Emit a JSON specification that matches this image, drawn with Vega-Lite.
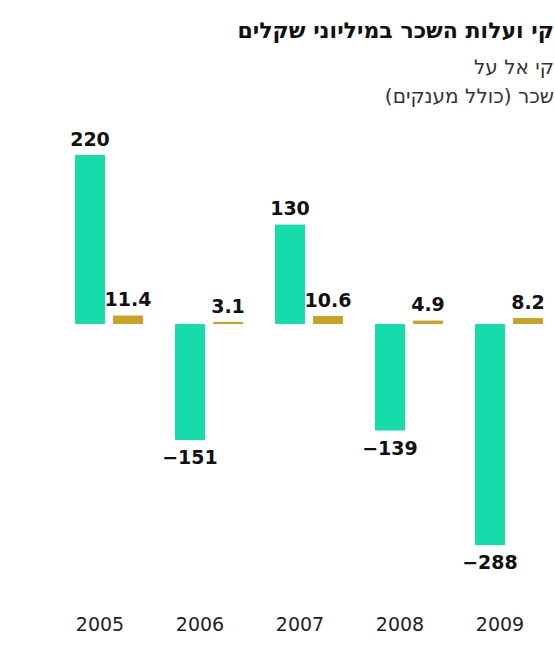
{
  "$schema": "https://vega.github.io/schema/vega-lite/v6.json",
  "autosize": "none",
  "width": 554,
  "height": 485,
  "padding": {"top": 120, "left": 0, "right": 0, "bottom": 43},
  "background": "#ffffff",
  "title": {
    "text": "קי ועלות השכר במיליוני שקלים",
    "subtitle": ["קי אל על", "שכר (כולל מענקים)‏"],
    "anchor": "end",
    "frame": "group",
    "font": "DejaVu Sans",
    "fontSize": 22,
    "fontWeight": "bold",
    "color": "#111111",
    "subtitleFont": "DejaVu Sans",
    "subtitleFontSize": 20,
    "subtitleColor": "#333333",
    "subtitleLineHeight": 29,
    "subtitlePadding": 15,
    "offset": 12
  },
  "config": {
    "view": {"stroke": null},
    "font": "DejaVu Sans"
  },
  "data": {
    "values": [
      {"year": "2005", "series": "profit", "value": 220, "label": "220"},
      {"year": "2006", "series": "profit", "value": -151, "label": "−151"},
      {"year": "2007", "series": "profit", "value": 130, "label": "130"},
      {"year": "2008", "series": "profit", "value": -139, "label": "−139"},
      {"year": "2009", "series": "profit", "value": -288, "label": "−288"},
      {"year": "2005", "series": "salary", "value": 11.4, "label": "11.4"},
      {"year": "2006", "series": "salary", "value": 3.1, "label": "3.1"},
      {"year": "2007", "series": "salary", "value": 10.6, "label": "10.6"},
      {"year": "2008", "series": "salary", "value": 4.9, "label": "4.9"},
      {"year": "2009", "series": "salary", "value": 8.2, "label": "8.2"}
    ]
  },
  "encoding": {
    "x": {
      "field": "year",
      "type": "ordinal",
      "scale": {"range": [59, 559], "paddingInner": 0, "paddingOuter": 0},
      "axis": {
        "title": null,
        "domain": false,
        "ticks": false,
        "labelAngle": 0,
        "labelFont": "DejaVu Sans",
        "labelFontSize": 19,
        "labelColor": "#222222",
        "labelPadding": 10,
        "labelOffset": -9
      }
    },
    "xOffset": {
      "field": "series",
      "type": "nominal",
      "scale": {"domain": ["profit", "salary"], "paddingInner": 0.21, "paddingOuter": 0.42}
    },
    "y": {
      "field": "value",
      "type": "quantitative",
      "scale": {"domain": [-365.9, 265.6], "nice": false, "zero": true},
      "axis": null
    }
  },
  "layer": [
    {
      "mark": {"type": "bar", "cornerRadius": 1},
      "encoding": {
        "color": {
          "field": "series",
          "type": "nominal",
          "scale": {"domain": ["profit", "salary"], "range": ["#15dcaa", "#c9a227"]},
          "legend": null
        }
      }
    },
    {
      "transform": [{"filter": "datum.value >= 0"}],
      "mark": {"type": "text", "baseline": "alphabetic", "dy": -9, "fontSize": 19, "fontWeight": "bold", "color": "#111111"},
      "encoding": {"text": {"field": "label"}}
    },
    {
      "transform": [{"filter": "datum.value < 0"}],
      "mark": {"type": "text", "baseline": "top", "dy": 9, "fontSize": 19, "fontWeight": "bold", "color": "#111111"},
      "encoding": {"text": {"field": "label"}}
    }
  ]
}
